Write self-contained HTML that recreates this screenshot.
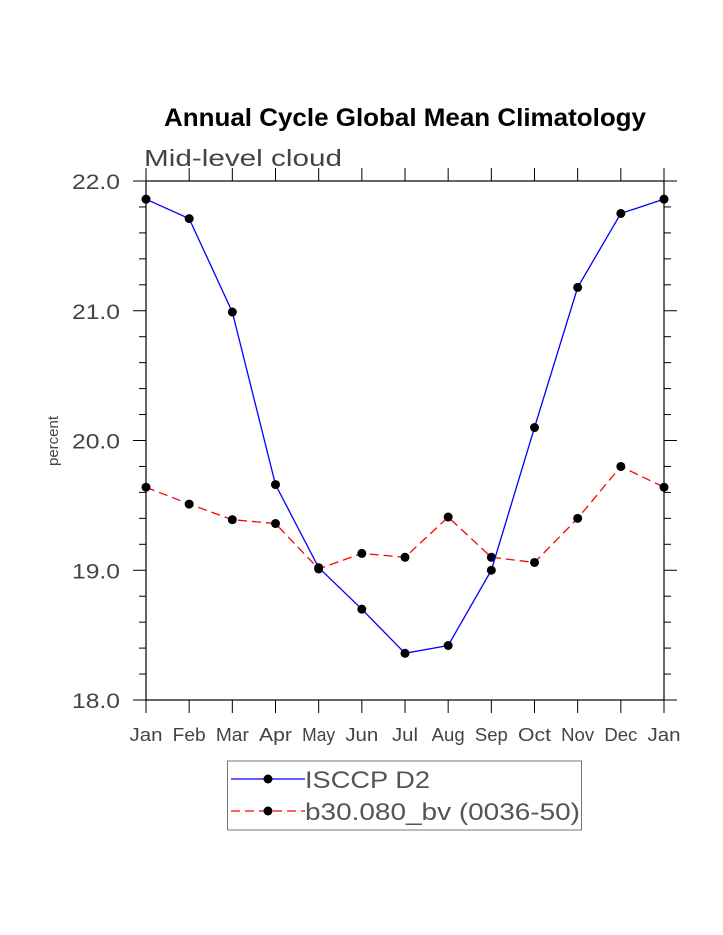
<!DOCTYPE html>
<html><head><meta charset="utf-8"><style>
html,body{margin:0;padding:0;background:#fff;width:723px;height:935px;overflow:hidden}
svg text{font-family:"Liberation Sans",sans-serif}
</style></head><body>
<svg id="chart" width="723" height="935" xmlns="http://www.w3.org/2000/svg">
<text x="405" y="126" text-anchor="middle" font-size="25" font-weight="bold" fill="#000" textLength="482" lengthAdjust="spacingAndGlyphs">Annual Cycle Global Mean Climatology</text>
<text x="144" y="166" font-size="23" fill="#444" textLength="198" lengthAdjust="spacingAndGlyphs">Mid-level cloud</text>
<text transform="translate(58,441) rotate(-90)" text-anchor="middle" font-size="15" fill="#444">percent</text>
<g id="axes"></g>
<g id="series"></g>
<g>
<rect x="227.5" y="761" width="354" height="69" fill="none" stroke="#777" stroke-width="1"/>
<g>
<line x1="231" y1="779" x2="305" y2="779" stroke="#0000ff" stroke-width="1.3"/>
<circle cx="268" cy="779" r="4.5" fill="#000"/>
<text x="305" y="788" font-size="24" fill="#555" textLength="125" lengthAdjust="spacingAndGlyphs">ISCCP D2</text></g>
<g>
<line x1="231" y1="811" x2="305" y2="811" stroke="#ff0000" stroke-width="1.3" stroke-dasharray="9,5"/>
<circle cx="268" cy="811" r="4.5" fill="#000"/>
<text x="305" y="820" font-size="24" fill="#555" textLength="275" lengthAdjust="spacingAndGlyphs">b30.080_bv (0036-50)</text></g>
</g>
</svg>
<script>
const months = ["Jan","Feb","Mar","Apr","May","Jun","Jul","Aug","Sep","Oct","Nov","Dec","Jan"];
const isccp = [21.86,21.71,20.99,19.66,19.02,18.70,18.36,18.42,19.00,20.10,21.18,21.75,21.86];
const b30 = [19.64,19.51,19.39,19.36,19.01,19.13,19.10,19.41,19.10,19.06,19.40,19.80,19.64];
const yTicks = [18.0,19.0,20.0,21.0,22.0];
const yMin = 18, yMax = 22;
const L=146,R=664,T=181,B=700;
const ns="http://www.w3.org/2000/svg";
function xs(i){return L+(R-L)*i/(months.length-1);}
function ys(v){return B-(B-T)*(v-yMin)/(yMax-yMin);}
function mk(tag,attrs,parent){const e=document.createElementNS(ns,tag);for(const k in attrs)e.setAttribute(k,attrs[k]);parent.appendChild(e);return e;}
const ax=document.getElementById('axes');
const frame=mk('rect',{x:L,y:T,width:R-L,height:B-T,fill:'none',stroke:'#000','stroke-width':1.2},ax);


months.forEach((m,i)=>{
  const x=xs(i);
  mk('line',{x1:x,y1:B,x2:x,y2:B+13,stroke:'#000'},ax);
  mk('line',{x1:x,y1:T,x2:x,y2:T-13,stroke:'#000'},ax);
  const w = m.length===3 ? (m==="Jul"?26:33) : 30;
  const t=mk('text',{x:x,y:B+41,'text-anchor':'middle','font-size':18,fill:'#444',textLength:w,lengthAdjust:'spacingAndGlyphs'},ax);
  t.textContent=m;
  
  
});
for(let v=yMin;v<=yMax+1e-9;v+=0.2){
  const y=ys(v);const major=Math.abs(v-Math.round(v))<1e-6;
  const len=major?13:7;
  mk('line',{x1:L,y1:y,x2:L-len,y2:y,stroke:'#000'},ax);
  mk('line',{x1:R,y1:y,x2:R+len,y2:y,stroke:'#000'},ax);
}
yTicks.forEach(v=>{
  const t=mk('text',{x:72,y:ys(v)+8,'font-size':21,fill:'#444',textLength:48,lengthAdjust:'spacingAndGlyphs'},ax);
  t.textContent=v.toFixed(1);
  
  
});
const sg=document.getElementById('series');
function draw(vals,color,dash,name){
  const g=mk('g',{},sg);
  
  
  const p=mk('polyline',{points:vals.map((v,i)=>xs(i)+','+ys(v)).join(' '),fill:'none',stroke:color,'stroke-width':1.3,'stroke-dasharray':dash},g);
  
  
  vals.forEach((v,i)=>{
    const c=mk('circle',{cx:xs(i),cy:ys(v),r:4.5,fill:'#000'},g);
    
    
  });
}
draw(b30,'#ff0000','9,5','b30-series');
draw(isccp,'#0000ff','none','isccp-series');
</script>
</body></html>
